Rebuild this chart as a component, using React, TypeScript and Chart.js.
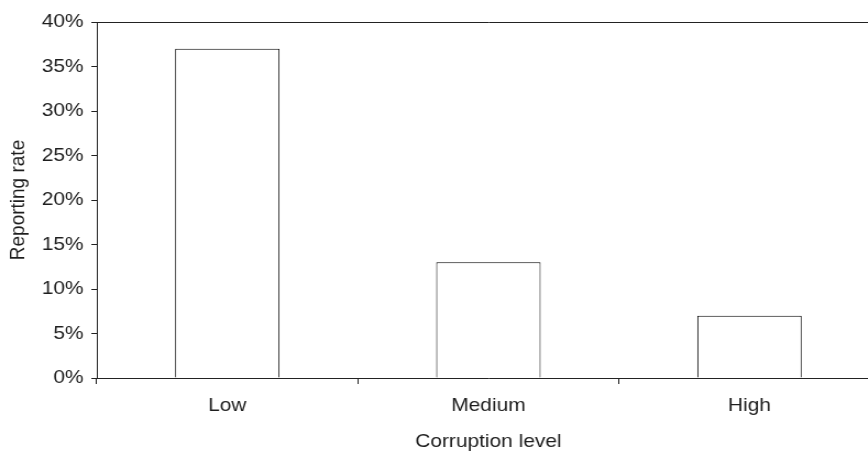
import React, { useEffect, useRef } from "react";
import { Chart, registerables } from "chart.js";

Chart.register(...registerables);

const categories: string[] = ["Low", "Medium", "High"];
const reportingRate: number[] = [37, 13, 7];
const yTickValues: number[] = [0, 5, 10, 15, 20, 25, 30, 35, 40];
const xTitle = "Corruption level";
const yTitle = "Reporting rate";

const STRETCH = 1.1;
const CANVAS_W = 820;
const FONT = '"Liberation Sans", Arial, Helvetica, sans-serif';
const TEXT = "#1e1e1e";
const LINE = "#222";

export default function App() {
  const ref = useRef<HTMLCanvasElement | null>(null);

  useEffect(() => {
    if (!ref.current) return;
    const chart = new Chart(ref.current, {
      type: "bar",
      data: {
        labels: categories,
        datasets: [
          {
            label: yTitle,
            data: reportingRate,
            backgroundColor: "#ffffff",
            borderColor: "#000000",
            borderWidth: 1,
            barPercentage: 0.4,
            categoryPercentage: 1,
          },
        ],
      },
      options: {
        responsive: false,
        animation: false,
        devicePixelRatio: 1,
        layout: { padding: { top: 22, right: 20, left: 0, bottom: 0 } },
        plugins: {
          legend: { display: false },
          tooltip: { enabled: false },
        },
        scales: {
          x: {
            offset: true,
            border: { display: true, color: LINE, width: 1 },
            grid: {
              offset: true,
              drawOnChartArea: false,
              color: LINE,
              tickColor: LINE,
              tickLength: 6,
            },
            ticks: {
              color: TEXT,
              font: { family: FONT, size: 19 },
              padding: 10,
              maxRotation: 0,
            },
            title: {
              display: true,
              text: xTitle,
              color: TEXT,
              font: { family: FONT, size: 19 },
              padding: { top: 0, bottom: 1 },
            },
            afterFit: (scale: any) => {
              scale.height = 76;
            },
          },
          y: {
            min: 0,
            max: 40,
            border: { display: true, color: LINE, width: 1 },
            grid: {
              drawOnChartArea: true,
              color: (ctx: any) =>
                ctx.tick && ctx.tick.value === yTickValues[yTickValues.length - 1]
                  ? LINE
                  : "rgba(0,0,0,0)",
              tickColor: LINE,
              tickLength: 5,
            },
            afterBuildTicks: (scale: any) => {
              scale.ticks = yTickValues.map((v) => ({ value: v }));
            },
            ticks: {
              color: TEXT,
              font: { family: FONT, size: 19 },
              padding: 7,
              callback: (v: any) => `${v}%`,
            },
            title: {
              display: true,
              text: yTitle,
              color: TEXT,
              font: { family: FONT, size: 19 },
              padding: { top: 5, bottom: 10 },
            },
            afterFit: (scale: any) => {
              scale.width = 88;
            },
          },
        },
      },
    });
    return () => chart.destroy();
  }, []);

  return (
    <div
      style={{
        position: "fixed",
        left: 0,
        top: 0,
        width: 868,
        height: 454,
        overflow: "hidden",
        background: "#fff",
      }}
    >
      <div
        style={{
          width: CANVAS_W,
          height: 454,
          transform: `scaleX(${STRETCH})`,
          transformOrigin: "0 0",
        }}
      >
        <canvas ref={ref} width={CANVAS_W} height={454} />
      </div>
    </div>
  );
}
